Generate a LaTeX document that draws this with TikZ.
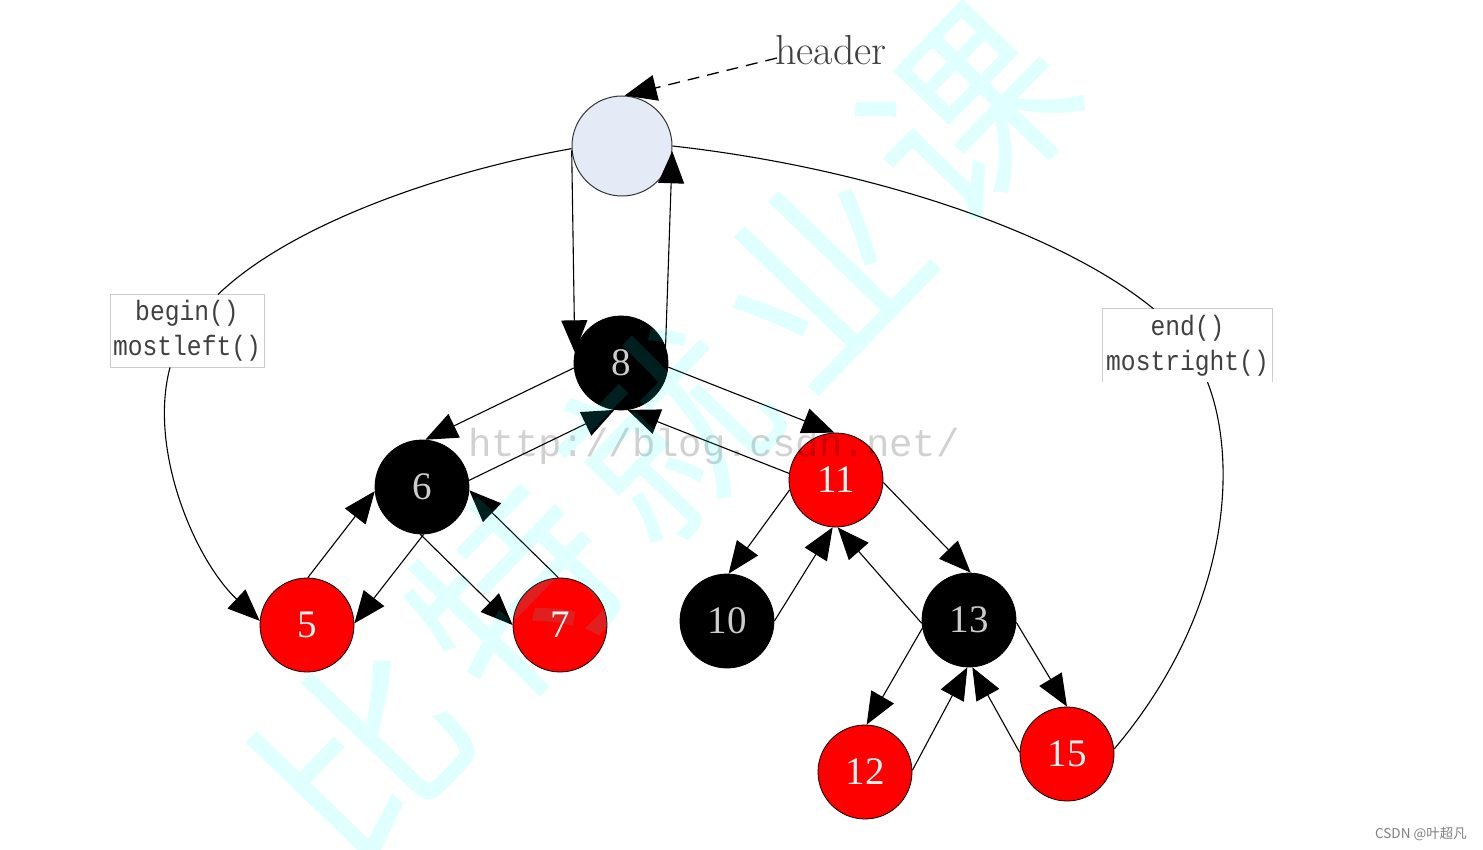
\documentclass[tikz,border=0pt]{standalone}
\usepackage{fontspec}
\usetikzlibrary{arrows.meta}
\newfontfamily\numfont{Liberation Serif}
\newfontfamily\lblfont[FakeStretch=0.88]{Liberation Mono}
\newfontfamily\urlfont{Liberation Mono}
\newfontfamily\cjkfont{Noto Sans CJK SC}
\definecolor{hdrfill}{RGB}{228,235,246}
\definecolor{rbred}{RGB}{255,0,0}
\definecolor{wmcyan}{RGB}{0,255,255}
\begin{document}
\begin{tikzpicture}[x=1pt,y=-1pt,
  bigtip/.style={-{Triangle[length=32pt,width=26pt]}},
  lnk/.style={draw=black, line width=1.1pt, bigtip},
  curv/.style={draw=black, line width=1.1pt},
  rbnode/.style={circle, draw=black, line width=0.8pt, minimum size=94pt, inner sep=0pt, font={\numfont\fontsize{39}{39}\selectfont}},
  blk/.style={rbnode, fill=black, text=white!80!black},
  rd/.style={rbnode, fill=rbred, text=white!95!red},
  hdr/.style={circle, draw=black!80, line width=1pt, fill=hdrfill, minimum size=100pt, inner sep=0pt},
  lblbox/.style={fill=white, minimum width=154pt, minimum height=72pt, align=center, font={\lblfont\fontsize{28}{35}\selectfont}, text=black!75, inner sep=0pt},
  wm/.style={text=wmcyan, text opacity=0.12, font={\cjkfont\fontsize{200}{200}\selectfont}, rotate=46, inner sep=0pt}
]
\useasboundingbox (0,0) rectangle (1483,850);
\fill[white] (0,0) rectangle (1483,850);

% nodes
\node[hdr] (H) at (622,146) {};
\node[blk] (n8) at (621,363) {8};
\node[blk] (n6) at (422,487) {6};
\node[rd] (n11) at (836,480) {11};
\node[rd] (n5) at (307,625) {5};
\node[rd] (n7) at (560,625) {7};
\node[blk] (n10) at (727,621) {10};
\node[blk] (n13) at (969,620) {13};
\node[rd] (n12) at (865,772) {12};
\node[rd] (n15) at (1067,754) {15};

\node[lblbox, draw=black!20, line width=1pt] (bbox) at (187,331) {begin()\\mostleft()};
\node[lblbox, minimum width=169pt, minimum height=73pt] (ebox) at (1187.5,345.5) {end()\\mostright()};
\draw[black!20, line width=1pt] (ebox.south west) -- (ebox.north west) -- (ebox.north east) -- (ebox.south east);

% header label
\node[anchor=base west, inner sep=0pt, text=black!75, font={\fontsize{42}{42}\selectfont}] (hlbl) at (775,65) {header};
\coordinate (hstart) at (777,58);
\draw[line width=1.3pt, dash pattern=on 12pt off 8pt, bigtip] (hstart) -- (H.87);

% header links
\draw[lnk] (H.185) -- (n8.167);
\draw[lnk] (n8.20) -- (H.-6);

% curves to leftmost / rightmost
\draw[curv] (H.183) .. controls (440,172) and (290,225) .. ([xshift=31pt]bbox.north);
\draw[curv, bigtip] ([xshift=-17pt]bbox.south) .. controls (148,450) and (195,560) .. (n5.175);
\draw[curv] (H.0) .. controls (870,168) and (1060,232) .. ([xshift=-34pt]ebox.north);
\draw[curv] ([xshift=20pt]ebox.south) .. controls (1238,460) and (1232,610) .. (n15.6);

% tree links
\draw[lnk] (n8.186) -- (n6.86);
\draw[lnk] (n6.8) -- (n8.262);
\draw[lnk] (n8.-5) -- (n11.92);
\draw[lnk] (n11.172) -- (n8.278);
\draw[lnk] (n6.272) -- (n5.2);
\draw[lnk] (n5.89) -- (n6.185);
\draw[lnk] (n6.268) -- (n7.180);
\draw[lnk] (n7.92) -- (n6.-4);
\draw[lnk] (n11.192) -- (n10.88);
\draw[lnk] (n10.0) -- (n11.266);
\draw[lnk] (n11.-3) -- (n13.88);
\draw[lnk] (n13.184) -- (n11.272);
\draw[lnk] (n13.190) -- (n12.88);
\draw[lnk] (n12.2) -- (n13.268);
\draw[lnk] (n13.-3) -- (n15.90);
\draw[lnk] (n15.178) -- (n13.274);

% watermarks
\node[anchor=base west, inner sep=0pt, text=black, text opacity=0.18, font={\urlfont\fontsize{39}{39}\selectfont}] (url) at (468,456) {http://blog.csdn.net/};
\node[wm] (w1) at (362,752) {比};
\node[wm] (w2) at (514,592) {特};
\node[wm] (w3) at (666,433) {就};
\node[wm] (w4) at (818,274) {业};
\node[wm] (w5) at (970,115) {课};
\node[anchor=base east, inner sep=0pt, text=black!50, font={\cjkfont\fontsize{13.5}{14}\selectfont}] (csdn) at (1467,838) {CSDN @叶超凡};
\end{tikzpicture}
\end{document}
